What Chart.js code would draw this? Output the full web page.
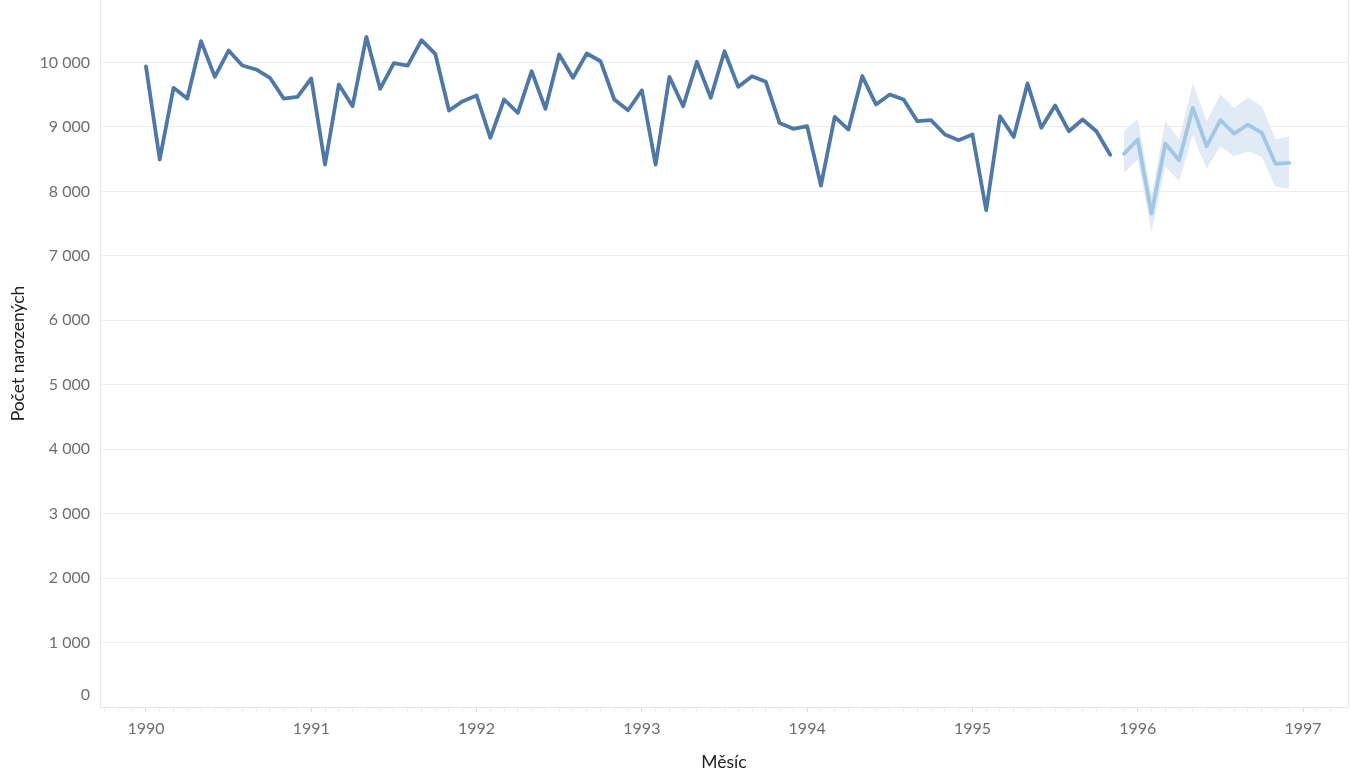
<!DOCTYPE html>
<html lang="cs">
  <head>
    <meta charset="UTF-8" />
    <meta name="viewport" content="width=device-width, initial-scale=1.0" />
    <title>Počet narozených</title>
    <!-- Chart.js v4 -->
    <script src="https://cdn.jsdelivr.net/npm/chart.js@4.4.1/dist/chart.umd.min.js"></script>
    <style>
      html, body { margin: 0; padding: 0; background: #fff; }
      #wrap { width: 1350px; height: 784px; position: relative; }
    </style>
  </head>
  <body>
    <div id="wrap"><canvas id="chart"></canvas></div>
    <script>
      // monthly births, Jan 1990 - Nov 1995
      const firstYear = 1990;
      const yearLabels = ["1989", "1990", "1991", "1992", "1993", "1994", "1995", "1996", "1997"];
      const yTicks = [0, 1000, 2000, 3000, 4000, 5000, 6000, 7000, 8000, 9000, 10000];

      const births = [
        9940, 8495, 9607, 9441, 10331, 9778, 10186, 9953, 9892, 9763, 9441, 9468,
        9752, 8417, 9659, 9322, 10399, 9592, 9990, 9953, 10346, 10135, 9255, 9400,
        9488, 8832, 9426, 9219, 9865, 9281, 10124, 9763, 10140, 10020, 9426, 9260,
        9570, 8417, 9778, 9322, 10011, 9452, 10175, 9623, 9788, 9700, 9060, 8972,
        9012, 8091, 9157, 8960, 9788, 9348, 9503, 9426, 9090, 9105, 8883, 8795,
        8883, 7708, 9167, 8847, 9674, 8987, 9333, 8934, 9116, 8934, 8568,
      ];

      // forecast Dec 1995 - Dec 1996 with its band
      const forecast = [8583, 8805, 7657, 8743, 8484, 9297, 8701, 9105, 8898, 9038, 8909, 8428, 8443];
      const forecastHigh = [8934, 9126, 7930, 9090, 8805, 9674, 9090, 9503, 9297, 9452, 9322, 8805, 8857];
      const forecastLow = [8289, 8495, 7383, 8391, 8158, 8883, 8350, 8701, 8546, 8624, 8536, 8071, 8040];

      const toX = (i) => firstYear + i / 12;
      const histPoints = births.map((v, i) => ({ x: toX(i), y: v }));
      const start = births.length;
      const fcPoints = forecast.map((v, i) => ({ x: toX(start + i), y: v }));
      const hiPoints = forecastHigh.map((v, i) => ({ x: toX(start + i), y: v }));
      const loPoints = forecastLow.map((v, i) => ({ x: toX(start + i), y: v }));

      const fmt = (v) => String(v).replace(/\B(?=(\d{3})+(?!\d))/g, "\u00a0");
      const font = "Lato";

      // drop the extra room chart.js keeps for the end labels
      const noPad = (scale) => { scale.paddingTop = 0; scale.paddingBottom = 0; };

      const ctx = document.getElementById("chart").getContext("2d");
      new Chart(ctx, {
        type: "line",
        data: {
          datasets: [
            {
              data: loPoints,
              borderWidth: 0,
              pointRadius: 0,
              fill: false,
              order: 3,
            },
            {
              data: hiPoints,
              borderWidth: 0,
              borderColor: "rgba(0,0,0,0)",
              pointRadius: 0,
              backgroundColor: "#e1ebf6",
              fill: "-1",
              order: 2,
            },
            {
              data: fcPoints,
              borderColor: "#a2c6e5",
              borderWidth: 3.8,
              borderJoinStyle: "round",
              borderCapStyle: "round",
              pointRadius: 0,
              fill: false,
              order: 1,
            },
            {
              data: histPoints,
              borderColor: "#4f78a6",
              borderWidth: 3.8,
              borderJoinStyle: "round",
              borderCapStyle: "round",
              pointRadius: 0,
              fill: false,
              order: 0,
            },
          ],
        },
        options: {
          responsive: true,
          maintainAspectRatio: false,
          animation: false,
          layout: { padding: 0 },
          plugins: { legend: { display: false }, tooltip: { enabled: false } },
          scales: {
            x: {
              type: "linear",
              min: 1989.722,
              max: 1997.272,
              afterBuildTicks: (scale) => {
                const t = [];
                for (let k = -3; k <= 86; k++) t.push({ value: firstYear + k / 12 });
                scale.ticks = t;
              },
              afterFit: (scale) => { scale.height = 77; scale.paddingLeft = 0; scale.paddingRight = 0; },
              grid: {
                drawOnChartArea: false,
                tickLength: 5,
                tickColor: (c) => {
                  const k = Math.round((c.tick.value - firstYear) * 12);
                  return k % 12 === 0 ? "#d9d9d9" : "#ededed";
                },
              },
              border: { color: "#e6e6e6" },
              ticks: {
                autoSkip: false,
                maxRotation: 0,
                padding: 7,
                color: "#6e6e6e",
                font: { family: font, size: 16 },
                callback: (v) => {
                  const k = Math.round((v - firstYear) * 12);
                  return k % 12 === 0 ? yearLabels[k / 12 + 1] : "";
                },
              },
              title: {
                display: true,
                text: "Měsíc",
                color: "#222",
                font: { family: font, size: 17.5 },
                padding: { top: 0, bottom: 11 },
              },
            },
            y: {
              min: 0,
              max: 10970,
              afterBuildTicks: (scale) => {
                scale.ticks = yTicks.map((v) => ({ value: v }));
              },
              afterFit: (scale) => { scale.width = 100; noPad(scale); },
              grid: { color: "#ececec", drawTicks: false },
              border: { color: "#e6e6e6" },
              ticks: {
                padding: 10,
                color: "#6e6e6e",
                font: { family: font, size: 16, lineHeight: 1.5 },
                callback: (v) => (v === 0 ? ["0", ""] : fmt(v)),
              },
              title: {
                display: true,
                text: "Počet narozených",
                color: "#222",
                font: { family: font, size: 17.5 },
                padding: { top: 8, bottom: 0 },
              },
            },
            yRight: {
              position: "right",
              min: 0,
              max: 10970,
              afterFit: (scale) => { scale.width = 2; noPad(scale); },
              grid: { display: false },
              ticks: { display: false },
              border: { display: true, color: "#e6e6e6" },
            },
          },
        },
      });
    </script>
  </body>
</html>
